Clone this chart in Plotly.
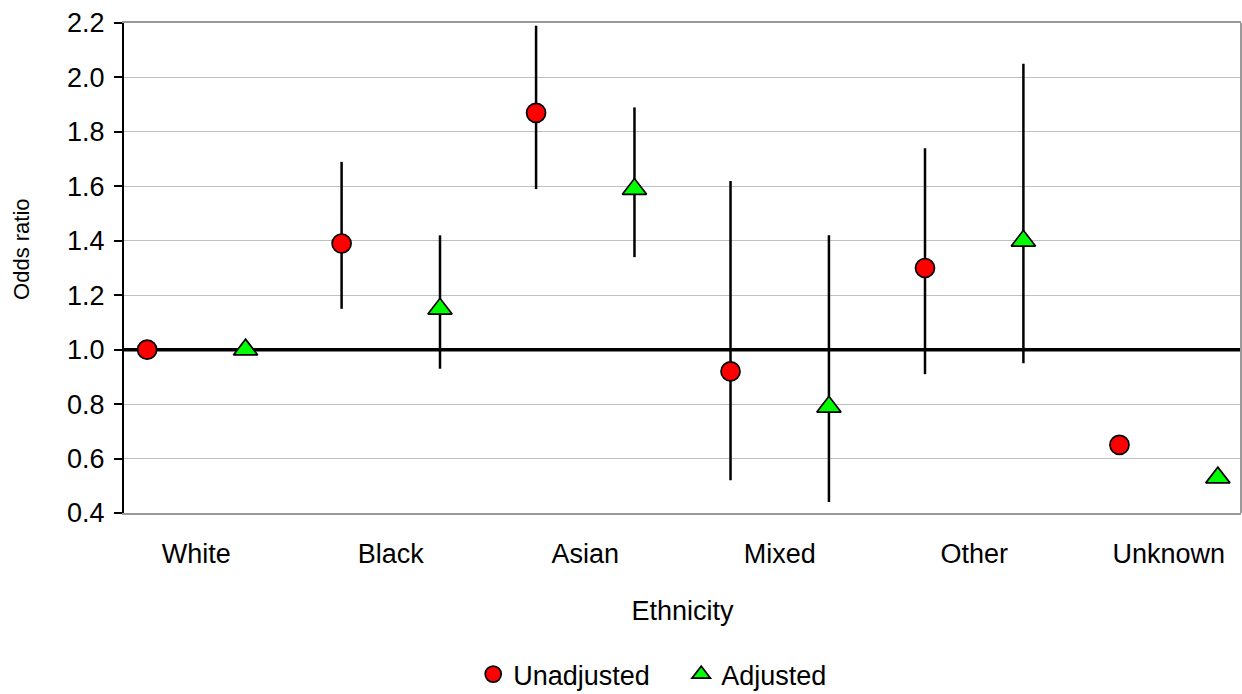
import numpy as np
import plotly.graph_objects as go

# Odds ratios with 95% confidence limits by ethnic group
categories = ["White", "Black", "Asian", "Mixed", "Other", "Unknown"]

unadjusted = [1.00, 1.39, 1.87, 0.92, 1.30, 0.65]
unadjusted_lo = [1.00, 1.15, 1.59, 0.52, 0.91, 0.65]
unadjusted_hi = [1.00, 1.69, 2.19, 1.62, 1.74, 0.65]

adjusted = [1.00, 1.15, 1.59, 0.79, 1.40, 0.53]
adjusted_lo = [1.00, 0.93, 1.34, 0.44, 0.95, 0.53]
adjusted_hi = [1.00, 1.42, 1.89, 1.42, 2.05, 0.53]

reference_or = 1.0
y_ticks = [0.4, 0.6, 0.8, 1.0, 1.2, 1.4, 1.6, 1.8, 2.0, 2.2]

FONT = "Liberation Sans, Arial, sans-serif"
pos = np.arange(len(categories))
shift = 0.253
x_range = [-0.372, 5.372]


def bars(v, lo, hi):
    v, lo, hi = map(np.asarray, (v, lo, hi))
    return dict(type="data", symmetric=False, array=hi - v, arrayminus=v - lo,
                color="black", thickness=2.5, width=0)


fig = go.Figure()
# horizontal reference line at OR = 1, drawn beneath the markers
fig.add_trace(go.Scatter(
    x=x_range, y=[reference_or, reference_or], mode="lines",
    line=dict(color="black", width=3.5), showlegend=False, hoverinfo="skip",
))
fig.add_trace(go.Scatter(
    x=pos - shift, y=unadjusted, mode="markers", name="Unadjusted",
    error_y=bars(unadjusted, unadjusted_lo, unadjusted_hi),
    marker=dict(symbol="circle", size=19, color="#ff0000",
                line=dict(color="black", width=1.7)),
))
fig.add_trace(go.Scatter(
    x=pos + shift, y=adjusted, mode="markers", name="Adjusted",
    error_y=bars(adjusted, adjusted_lo, adjusted_hi),
    marker=dict(symbol="triangle-up", size=21, color="#00ff00",
                line=dict(color="black", width=1.7)),
))

# grey right edge of the plot frame
fig.add_shape(type="line", xref="paper", x0=1, x1=1, yref="paper", y0=0, y1=1,
              line=dict(color="#9a9a9a", width=2))

# y-axis title, placed a little above the vertical middle of the axis
fig.add_annotation(text="Odds ratio", textangle=-90, xref="paper", yref="paper",
                   x=-0.0913, y=0.539, xanchor="center", yanchor="middle",
                   showarrow=False, font=dict(family=FONT, size=22, color="black"))

fig.update_layout(
    width=1242, height=694,
    margin=dict(l=124, r=1, t=23, b=181, autoexpand=False),
    paper_bgcolor="white", plot_bgcolor="white",
    font=dict(family=FONT, size=27, color="black"),
    showlegend=True,
    legend=dict(orientation="h", xref="container", x=0.381, xanchor="left",
                yref="container", y=0.028, yanchor="middle",
                font=dict(family=FONT, size=27), itemwidth=30,
                entrywidth=163, entrywidthmode="pixels",
                bgcolor="rgba(0,0,0,0)"),
    xaxis=dict(
        range=x_range, tickmode="array", tickvals=pos, ticktext=categories,
        tickfont=dict(family=FONT, size=27),
        showgrid=False, zeroline=False, showline=True, mirror=True,
        linecolor="#9a9a9a", linewidth=2, ticks="", ticklabelstandoff=16,
        automargin=False,
        title=dict(text="Ethnicity", font=dict(family=FONT, size=27), standoff=33),
    ),
    yaxis=dict(
        range=[0.4, 2.2], tickmode="array", tickvals=y_ticks,
        ticktext=[f"{t:.1f}" for t in y_ticks],
        tickfont=dict(family=FONT, size=27),
        showgrid=True, gridcolor="#c0c0c0", gridwidth=1, zeroline=False,
        showline=True, linecolor="black", linewidth=2,
        ticks="outside", ticklen=8, tickwidth=1.5, tickcolor="black",
        ticklabelstandoff=4, automargin=False,
    ),
)

fig.write_html("out.html")
